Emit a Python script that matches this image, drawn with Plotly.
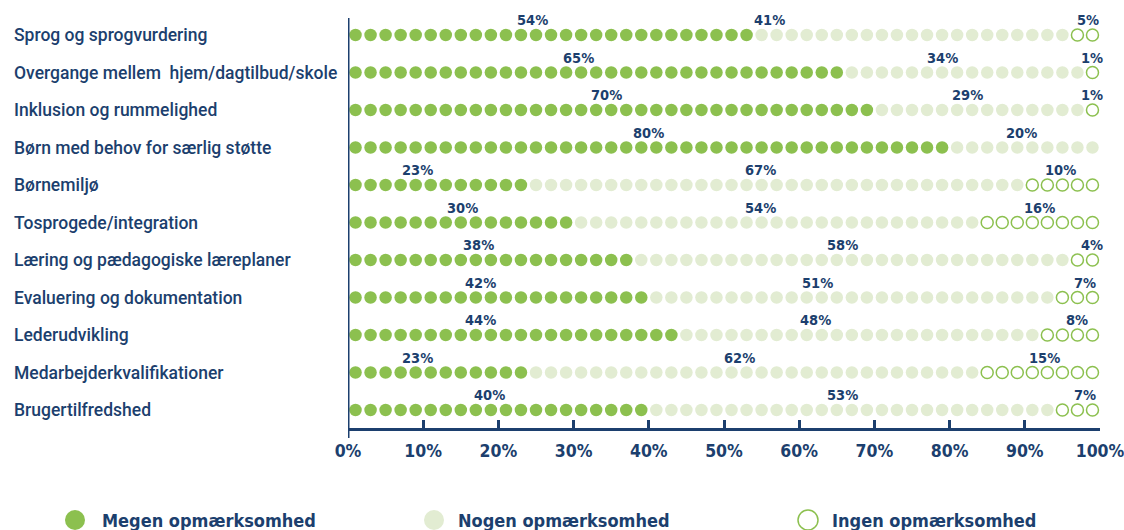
import plotly.graph_objects as go

# ---------------- data ----------------
categories = [
    "Sprog og sprogvurdering",
    "Overgange mellem  hjem/dagtilbud/skole",
    "Inklusion og rummelighed",
    "Børn med behov for særlig støtte",
    "Børnemiljø",
    "Tosprogede/integration",
    "Læring og pædagogiske læreplaner",
    "Evaluering og dokumentation",
    "Lederudvikling",
    "Medarbejderkvalifikationer",
    "Brugertilfredshed",
]
megen_pct = [54, 65, 70, 80, 23, 30, 38, 42, 44, 23, 40]
nogen_pct = [41, 34, 29, 20, 67, 54, 58, 51, 48, 62, 53]
ingen_pct = [5, 1, 1, 0, 10, 16, 4, 7, 8, 15, 7]

# dots per row as drawn (each dot = 2 %)
megen_dots = [27, 33, 35, 40, 12, 15, 19, 20, 22, 12, 20]
nogen_dots = [21, 16, 14, 10, 33, 27, 29, 27, 24, 30, 27]
ingen_dots = [2, 1, 1, 0, 5, 8, 2, 3, 4, 8, 3]

# where the value labels sit along the axis (percent)
megen_label_x = [24.5, 30.6, 34.4, 40.0, 9.3, 15.2, 17.3, 17.6, 17.6, 9.3, 18.8]
nogen_label_x = [56.1, 79.1, 82.4, 89.5, 54.8, 54.8, 65.8, 62.4, 62.2, 52.1, 65.8]
ingen_label_x = [98.4, 98.9, 98.9, None, 94.8, 92.0, 98.9, 98.0, 96.9, 92.6, 98.0]

series_names = ["Megen opmærksomhed", "Nogen opmærksomhed", "Ingen opmærksomhed"]
xticks = [0, 10, 20, 30, 40, 50, 60, 70, 80, 90, 100]

# ---------------- style ----------------
GREEN = "#8cc04f"
LIGHT = "#e2ecd2"
NAVY = "#1c3f6e"
DOT_STEP = 2  # percent per dot

FONT = "Roboto"
COND = "DejaVu Sans Condensed, Roboto"

fig = go.Figure()

def dot_positions(start_counts, counts):
    xs, ys = [], []
    for row, (start, n) in enumerate(zip(start_counts, counts)):
        for k in range(n):
            xs.append((start + k) * DOT_STEP + DOT_STEP / 2)
            ys.append(row)
    return xs, ys

zeros = [0] * len(categories)
x1, y1 = dot_positions(zeros, megen_dots)
x2, y2 = dot_positions(megen_dots, nogen_dots)
x3, y3 = dot_positions([a + b for a, b in zip(megen_dots, nogen_dots)], ingen_dots)

fig.add_trace(go.Scatter(x=x1, y=y1, mode="markers", name=series_names[0],
                         marker=dict(size=12.5, color=GREEN, line=dict(width=0)),
                         showlegend=False, hoverinfo="skip"))
fig.add_trace(go.Scatter(x=x2, y=y2, mode="markers", name=series_names[1],
                         marker=dict(size=12.5, color=LIGHT, line=dict(width=0)),
                         showlegend=False, hoverinfo="skip"))
fig.add_trace(go.Scatter(x=x3, y=y3, mode="markers", name=series_names[2],
                         marker=dict(size=12, symbol="circle-open", color=GREEN,
                                     line=dict(width=1.5, color=GREEN)),
                         showlegend=False, hoverinfo="skip"))

annotations = []
# value labels
for row in range(len(categories)):
    for pct, lx in ((megen_pct[row], megen_label_x[row]),
                    (nogen_pct[row], nogen_label_x[row]),
                    (ingen_pct[row], ingen_label_x[row])):
        if lx is None or pct == 0:
            continue
        annotations.append(dict(x=lx, y=row, xref="x", yref="y", text=f"{pct}%",
                                showarrow=False, yshift=15, xanchor="center",
                                yanchor="middle",
                                font=dict(family=COND, size=14.5, color=NAVY, weight="bold")))

# category labels (left aligned)
L, R = 348, 1100
PW = R - L
for row, cat in enumerate(categories):
    annotations.append(dict(x=(12 - L) / PW, y=row, xref="paper", yref="y", text=cat,
                            showarrow=False, xanchor="left", yanchor="middle",
                            font=dict(family=FONT, size=17.5, color=NAVY, weight=500)))

# legend (manual)
legend_cx = [75, 434, 808]
legend_tx = [100, 456, 830]
TOP, BOT = 18, 428
PH = BOT - TOP
ly = -(520 - BOT) / PH
shapes = []
styles = [dict(fillcolor=GREEN, line=dict(width=0)),
          dict(fillcolor=LIGHT, line=dict(width=0)),
          dict(fillcolor="white", line=dict(width=1.5, color=GREEN))]
for cx, tx, name, st in zip(legend_cx, legend_tx, series_names, styles):
    shapes.append(dict(type="circle", xref="paper", yref="paper",
                       xsizemode="pixel", ysizemode="pixel",
                       xanchor=(cx - L) / PW, yanchor=ly,
                       x0=-10, x1=10, y0=-10, y1=10, layer="above", **st))
    annotations.append(dict(x=(tx - L) / PW, y=ly, xref="paper", yref="paper", text=name,
                            showarrow=False, xanchor="left", yanchor="middle",
                            font=dict(family=COND, size=18, color=NAVY, weight="bold")))

# y-axis line extension below x-axis
shapes.append(dict(type="line", xref="x", yref="paper", x0=0, x1=0, y0=-10 / PH, y1=1,
                   line=dict(color=NAVY, width=3)))

fig.update_layout(
    width=1124, height=530,
    margin=dict(l=L, r=1124 - R, t=TOP, b=530 - BOT),
    plot_bgcolor="white", paper_bgcolor="white",
    showlegend=False,
    annotations=annotations, shapes=shapes,
    xaxis=dict(range=[0, 100], tickvals=xticks, ticktext=[f"{v}%" for v in xticks],
               showgrid=False, zeroline=False, showline=True, linecolor=NAVY, linewidth=3,
               ticks="inside", ticklen=8, tickwidth=2.5, tickcolor=NAVY,
               ticklabeloverflow="allow", ticklabelstandoff=5, automargin=False,
               tickfont=dict(family=COND, size=17.5, color=NAVY, weight="bold"),
               fixedrange=True),
    yaxis=dict(range=[10 + 18 / 37.5, -17 / 37.5], showgrid=False, zeroline=False,
               showline=False, showticklabels=False, ticks="", fixedrange=True,
               automargin=False),
)

fig.write_html("out.html", config={"displayModeBar": False},
               post_script="document.body.style.margin='0';document.body.style.overflow='hidden';")
